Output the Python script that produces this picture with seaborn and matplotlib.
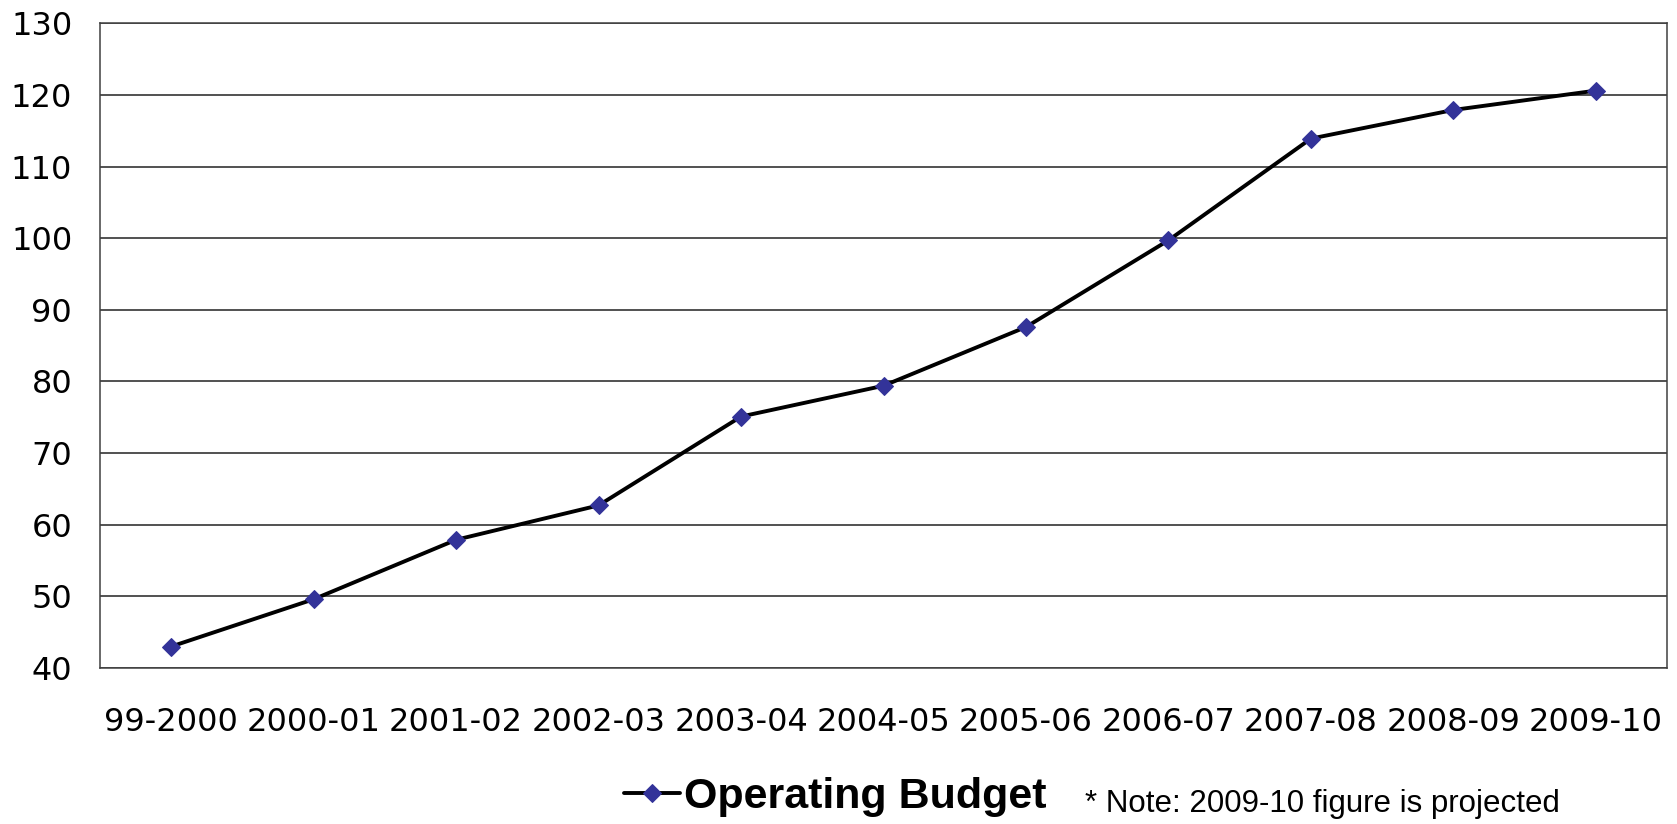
import numpy as np
import pandas as pd
import matplotlib
matplotlib.use("Agg")
import matplotlib.pyplot as plt
import seaborn as sns

# values
years = ["99-2000", "2000-01", "2001-02", "2002-03", "2003-04", "2004-05",
         "2005-06", "2006-07", "2007-08", "2008-09", "2009-10"]
budget = [43.0, 49.6, 57.9, 62.7, 75.1, 79.4, 87.6, 99.7, 113.9, 117.9, 120.6]
y_ticks = [40, 50, 60, 70, 80, 90, 100, 110, 120, 130]
series_label = "Operating Budget"
note_text = "* Note: 2009-10 figure is projected"

sns.set_style("white")
plt.rcParams["font.family"] = ["DejaVu Sans"]
plt.rcParams["text.color"] = "black"
plt.rcParams["xtick.color"] = "black"
plt.rcParams["ytick.color"] = "black"

df = pd.DataFrame({"year": years, "budget": budget})

fig = plt.figure(figsize=(16.77, 8.24), dpi=100)
ax = fig.add_axes([100 / 1677, 1 - 668 / 824, 1567 / 1677, (668 - 23.3) / 824])

sns.lineplot(
    data=df, x="year", y="budget", ax=ax, sort=False,
    color="black", linewidth=2.8,
    marker="D", markersize=9.5, markerfacecolor="#333399",
    markeredgecolor="#333399", label=series_label,
)

ax.set_xlim(-0.5, len(years) - 0.5)
ax.set_ylim(40, 130)
ax.set_yticks(y_ticks)
ax.yaxis.grid(True, color="#222222", linewidth=1.1)
ax.set_axisbelow(True)
for s in ax.spines.values():
    s.set_visible(True)
    s.set_color("#404040")
    s.set_linewidth(1.1)
ax.tick_params(axis="y", length=0, pad=20, labelsize=23)
ax.tick_params(axis="x", length=0, pad=28, labelsize=23)
ax.set_xlabel("")
ax.set_ylabel("")

ax.get_legend().remove()
leg = fig.legend(
    loc="center left", bbox_to_anchor=(624 / 1677, 1 - 797 / 824),
    frameon=False, borderpad=0, borderaxespad=0,
    handlelength=1.3, handletextpad=0.1,
    prop={"family": "Liberation Sans", "weight": "bold", "size": 31},
)

fig.text(1085 / 1677, 1 - 811.7 / 824, note_text, ha="left", va="baseline",
         fontsize=22.5, family="Liberation Sans", color="black")

fig.savefig("out.png", dpi=100)
